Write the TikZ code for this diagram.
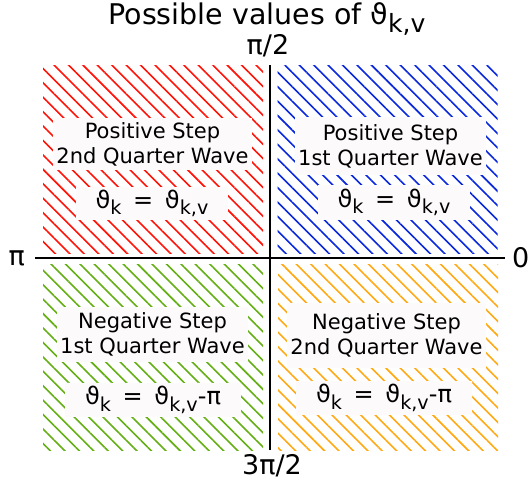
\documentclass[tikz,border=0pt]{standalone}
\usepackage{fontspec}
\setmainfont{DejaVu Sans}
\usepackage{xcolor}
\usepackage{tikz}
\usetikzlibrary{patterns.meta, positioning}
\definecolor{myred}{RGB}{255,20,10}
\definecolor{myblue}{RGB}{10,40,220}
\definecolor{mygreen}{RGB}{100,175,20}
\definecolor{myorange}{RGB}{255,170,20}
\definecolor{mybox}{RGB}{253,250,252}
\newcommand{\lsub}[2][0.8]{\raisebox{-0.28em}{\scalebox{#1}{#2}}}
\tikzset{
  axis/.style={draw=black, line width=1.8pt},
  quad/.style={rectangle, draw=none, minimum width=220pt, pattern={Lines[angle=-45, distance=10.2pt, line width=1.6pt]}},
  tbox/.style={rectangle, fill=mybox, align=center, inner xsep=3pt, inner ysep=3pt, font=\fontsize{21}{25}\selectfont},
  ebox/.style={rectangle, fill=mybox, inner xsep=20pt, inner ysep=3pt, minimum height=32pt, font=\fontsize{24}{26}\selectfont},
  lbl/.style={font=\fontsize{27}{30}\selectfont, inner sep=0pt}
}

\begin{document}
\begin{tikzpicture}[x=1pt, y=-1pt]
  \useasboundingbox (0,0) rectangle (529,487);

  % hatched quadrants
  \node [quad, pattern color=myred, minimum height=188pt] (q2) at (153,159) {};
  \node [quad, pattern color=myblue, minimum height=188pt] (q1) at (387.5,159) {};
  \node [quad, pattern color=mygreen, minimum height=186pt] (q3) at (153,357) {};
  \node [quad, pattern color=myorange, minimum height=186pt] (q4) at (388,357) {};

  % labels inside
  \node [tbox, minimum height=52pt] (t2) at (152.5,144) {Positive Step\\2nd Quarter Wave};
  \node [ebox, minimum height=33pt] (e2) at (152,203.5) {ϑ\lsub{k} \,=\, ϑ\lsub{k,v}};
  \node [tbox, minimum height=58pt] (t1) at (390.5,146) {Positive Step\\1st Quarter Wave};
  \node [ebox, minimum height=35pt] (e1) at (394,202.5) {ϑ\lsub{k} \,=\, ϑ\lsub{k,v}};
  \node [tbox, minimum height=55pt] (t3) at (152.5,334.5) {Negative Step\\1st Quarter Wave};
  \node [ebox, minimum height=30pt] (e3) at (153,400) {ϑ\lsub{k} \,=\, ϑ\lsub{k,v}-π};
  \node [tbox, minimum height=65pt] (t4) at (386.5,335.5) {Negative Step\\2nd Quarter Wave};
  \node [ebox, minimum height=30pt] (e4) at (384,398) {ϑ\lsub{k} \,=\, ϑ\lsub{k,v}-π};

  % axes
  \coordinate (xl) at (35,258);
  \coordinate (xr) at (505,258);
  \coordinate (yt) at (270,65);
  \coordinate (yb) at (270,450);
  \draw [axis] (xl) -- (xr);
  \draw [axis] (yt) -- (yb);

  \node [lbl, anchor=base] (title) at (267,25) {\fontsize{28.5}{32}\selectfont Possible values of ϑ\lsub[0.88]{k,v}};
  \node [lbl, anchor=base] (halfpi) at (268,55) {π/2};
  \node [lbl, left=10pt of xl] (pi) {π};
  \node [lbl, right=7pt of xr] (zero) {0};
  \node [lbl, anchor=base] (threehalfpi) at (272,474) {3π/2};
\end{tikzpicture}
\end{document}
